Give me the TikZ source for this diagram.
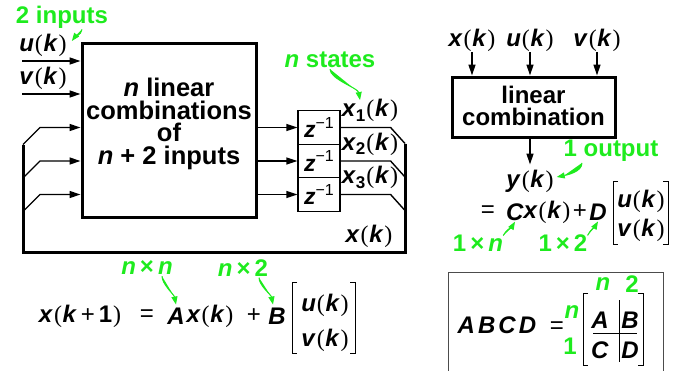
\documentclass[tikz,border=0pt]{standalone}
\usepackage{fontspec}
\setmainfont{Liberation Sans}
\newfontfamily\parenfont{Liberation Serif}
\usetikzlibrary{arrows.meta, positioning, calc}
\definecolor{cLime}{RGB}{30,235,30}
\newcommand{\vb}[1]{\textbf{\textit{#1}}}
\newcommand{\ofk}[1]{\kern1pt{\parenfont(}\kern0.6pt#1\kern0.8pt{\parenfont)}}
\newcommand{\sig}[1]{\vb{#1}\ofk{\vb{k}}}
\newcommand{\sub}[1]{\raisebox{-0.35ex}{\fontsize{17}{17}\selectfont\bfseries #1}}
\tikzset{
	blk/.style    ={rectangle, draw=black, line width=3pt, align=center, inner sep=0pt},
	blktext/.style={align=center, font=\bfseries\fontsize{25.5}{22.5}\selectfont},
	zbox/.style   ={rectangle, draw=black, line width=1.2pt, minimum width=42pt, minimum height=33.5pt, inner sep=0pt, font=\fontsize{23}{23}\selectfont},
	lbl/.style    ={inner sep=1pt, font=\fontsize{24}{24}\selectfont},
	note/.style   ={inner sep=1pt, text=cLime, font=\bfseries\fontsize{24}{24}\selectfont},
	sigarrow/.style={-{Triangle[length=11pt, width=7pt]}, line width=1.4pt},
	bus/.style    ={line width=3pt},
	tap/.style    ={line width=1.4pt},
	hint/.style   ={-{Triangle[length=8pt, width=6pt]}, draw=cLime, fill=cLime, line width=1pt},
	brk/.style    ={line width=1pt},
}

\begin{document}
\begin{tikzpicture}[x=1pt, y=-1pt]
	\useasboundingbox (0,0) rectangle (681,370);
	% state update
	\node[blk, minimum width=174pt, minimum height=174pt] (comb) at (169,130) {};
	\node[blktext] (combtxt) at (169,124) {\textit{n} linear\\combinations\\of\\\textit{n} + 2 inputs};
	\coordinate (uin) at (22,61);
	\coordinate (vin) at (22,94);
	\draw[sigarrow] (uin) -- (uin -| comb.west);
	\draw[sigarrow] (vin) -- (vin -| comb.west);
	\node[lbl] (ulbl) at (43,45) {\sig{u}};
	\node[lbl] (vlbl) at (43,78) {\sig{v}};
	\node[note] (inp) at (62,17) {2 inputs};
	\draw[hint] ($(inp.south)+(20,0)$) .. controls +(-1,6) and +(3,-4) .. ($(ulbl.east)+(4,-4)$);
	\coordinate (rbot) at (405,252);
	\coordinate (lbot) at (23,252);
	\foreach \i/\yy in {1/127.5,2/161,3/194.5}{
		\node[zbox] (z\i) at (319,\yy) {\vb{z}\raisebox{0.75ex}{\fontsize{16}{16}\selectfont −1}};
		\draw[sigarrow] (z\i.west -| comb.east) -- (z\i.west);
		\coordinate (fb\i) at (23,\yy+17);
		\draw[sigarrow] (fb\i) -- ++(17,-17) -- (comb.west |- z\i.west);
		\coordinate (tap\i) at (405,\yy+16);
		\draw[tap] (z\i.east) -- ++(50,0) -- (tap\i);
		\node[lbl] (x\i) at (370,\yy-17) {\vb{x}\sub{\i}\ofk{\vb{k}}};
	}
	\draw[bus] (tap1) -- (rbot) -- (lbot) -- (fb1);
	\node[lbl] (xbus) at (369,236) {\sig{x}};
	\node[note] (nst) at (330,60) {\textit{n} states};
	\draw[hint] (nst.south) .. controls +(0,10) and +(-2,-12) .. ($(x1.north)+(-10,2)$);
	% output
	\node[lbl] (xr) at (472,40) {\sig{x}};
	\node[lbl] (ur) at (530,40) {\sig{u}};
	\node[lbl] (vr) at (597,40) {\sig{v}};
	\node[blk, minimum width=163pt, minimum height=60pt] (lin) at (533.5,107) {};
	\node[blktext, font=\bfseries\fontsize{24}{21.5}\selectfont] (lintxt) at (533.5,106) {linear\\combination};
	\draw[sigarrow] (xr.south) -- (xr |- lin.north);
	\draw[sigarrow] (ur.south) -- (ur |- lin.north);
	\draw[sigarrow] (vr.south) -- (vr |- lin.north);
	\node[lbl] (yk) at (530,181) {\sig{y}};
	\draw[sigarrow] (lin.south -| ur) -- ++(0,26);
	\node[note] (oneout) at (611,151) {1 output};
	\draw[hint] ($(oneout.south)+(-29,0)$) .. controls +(0,9) and +(10,-2) .. ($(yk.east)+(2,-4)$);
	\node[lbl] (eqy) at (488,212) {=};
	\node[lbl] (cm) at (515,212) {\vb{C}};
	\node[lbl] (xc) at (547,212) {\sig{x}};
	\node[lbl] (plusy) at (580,212) {+};
	\node[lbl] (dm) at (598,212) {\vb{D}};
	\node[lbl] (uy) at (641,201) {\sig{u}};
	\node[lbl] (vy) at (641,230) {\sig{v}};
	\draw[brk] (618,181) -| (613,244) -- (618,244);
	\draw[brk] (663,181) -| (668,244) -- (663,244);
	\node[note] (onen) at (478,243) {1\,×\,\textit{n}};
	\node[note] (onetwo) at (563,243) {1\,×\,2};
	\draw[hint] ($(onen.north east)+(-1,2)$) .. controls +(3,-6) and +(-3,5) .. (cm.south);
	\draw[hint] ($(onetwo.north east)+(-1,2)$) .. controls +(3,-6) and +(-3,5) .. (dm.south);
	% state equation
	\node[lbl] (xk1) at (80,316) {\vb{x}\ofk{\vb{k}\kern4pt+\kern4pt\textbf{1}}};
	\node[lbl] (eqx) at (147,316) {=};
	\node[lbl] (am) at (176,316) {\vb{A}};
	\node[lbl] (xa) at (210,316) {\sig{x}};
	\node[lbl] (plusx) at (254,316) {+};
	\node[lbl] (bm) at (277,316) {\vb{B}};
	\node[lbl] (ub) at (325,305) {\sig{u}};
	\node[lbl] (vb) at (325,340) {\sig{v}};
	\draw[brk] (297,282) -| (292,353) -- (297,353);
	\draw[brk] (350,282) -| (355,353) -- (350,353);
	\node[note] (nn) at (147,268) {\textit{n}\,×\,\textit{n}};
	\node[note] (ntwo) at (243,268) {\textit{n}\,×\,2};
	\draw[hint] ($(nn.south)+(15,0)$) .. controls +(0,8) and +(-2,-10) .. ($(am.north)+(0,-2)$);
	\draw[hint] ($(ntwo.south)+(16,0)$) .. controls +(0,8) and +(-2,-10) .. ($(bm.north)+(-4,-2)$);
	% ABCD
	\draw[line width=1pt, black!70] (448,372) -- (448,272) -- (663,272) -- (663,372);
	\node[lbl] (abcd) at (497,325) {\vb{A}\kern3pt\vb{B}\kern3pt\vb{C}\kern3pt\vb{D}};
	\node[lbl] (eqm) at (557,328) {=};
	\node[lbl] (ma) at (600,320) {\vb{A}};
	\node[lbl] (mb) at (630,320) {\vb{B}};
	\node[lbl] (mc) at (600,350) {\vb{C}};
	\node[lbl] (md) at (630,350) {\vb{D}};
	\draw[brk] (619,300) -- (619,362);
	\draw[brk] (593,333) -- (637,333);
	\draw[brk] (588,293) -| (583,365) -- (588,365);
	\draw[brk] (638,293) -| (643,365) -- (638,365);
	\node[note] (rn) at (572,312) {\textit{n}};
	\node[note] (r1) at (570,346) {1};
	\node[note] (cn) at (603,284) {\textit{n}};
	\node[note] (c2) at (632,284) {2};
\end{tikzpicture}
\end{document}
